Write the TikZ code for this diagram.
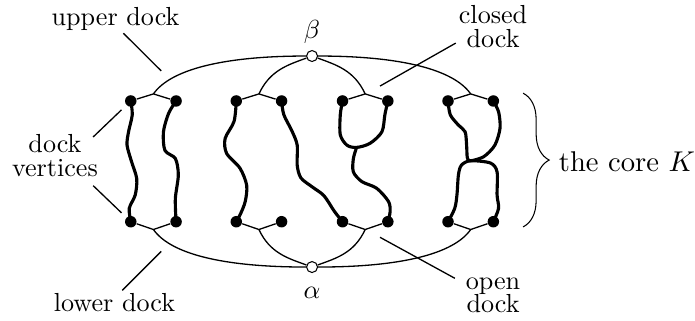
\documentclass[tikz,border=0pt]{standalone}
\usepackage{tikz}
\usetikzlibrary{decorations.pathreplacing}

\begin{document}
\begin{tikzpicture}[
  vert/.style={circle, fill=black, inner sep=0pt, minimum size=4.4pt},
  port/.style={circle, draw=black, fill=white, inner sep=0pt, minimum size=4.2pt},
  dockline/.style={line width=0.5pt},
  pointer/.style={line width=0.5pt},
  corepath/.style={line width=1.2pt, line cap=round},
  lbl/.style={inner sep=1pt, align=center, font=\linespread{0.75}\selectfont}
]
\useasboundingbox (-4.20,-2.133) rectangle (5.154,2.174);
\node[port, label={[inner sep=0pt, label distance=2.3pt]above:$\beta$}] (beta) at (0,1.42) {};
\node[port, label={[inner sep=0pt, label distance=5.4pt]below:$\alpha$}] (alpha) at (0,-1.42) {};
\foreach \i/\x in {1/-2.44,2/-1.83,3/-1.02,4/-0.41,5/0.41,6/1.02,7/1.83,8/2.44} {
  \node[vert] (t\i) at (\x,0.815) {};
  \node[vert] (b\i) at (\x,-0.81) {};
}
\foreach \j/\x in {1/-2.135,2/-0.715,3/0.715,4/2.135} {
  \coordinate (u\j) at (\x,0.91);
  \coordinate (l\j) at (\x,-0.915);
}
\foreach \j/\a/\b in {1/1/2,2/3/4,3/5/6,4/7/8} {
  \draw[dockline] (t\a) -- (u\j) -- (t\b);
  \draw[dockline] (b\a) -- (l\j) -- (b\b);
}
\draw[dockline] (u1) .. controls +(55:0.4) and +(180:1.2) .. (beta);
\draw[dockline] (u2) .. controls +(65:0.35) and +(200:0.35) .. (beta);
\draw[dockline] (u3) .. controls +(115:0.35) and +(-20:0.35) .. (beta);
\draw[dockline] (u4) .. controls +(125:0.4) and +(0:1.2) .. (beta);
\draw[dockline] (l1) .. controls +(-55:0.4) and +(180:1.2) .. (alpha);
\draw[dockline] (l2) .. controls +(-65:0.35) and +(160:0.35) .. (alpha);
\draw[dockline] (l3) .. controls +(-115:0.35) and +(20:0.35) .. (alpha);
\draw[dockline] (l4) .. controls +(-125:0.4) and +(0:1.2) .. (alpha);
\coordinate (k3) at (0.60,0.19);
\coordinate (k4) at (2.13,0.01);
\draw[corepath] plot[smooth] coordinates {(t1.center) (-2.42,0.63) (-2.47,0.40) (-2.49,0.22) (-2.43,0.00) (-2.36,-0.23) (-2.38,-0.45) (-2.46,-0.63) (b1.center)};
\draw[corepath] plot[smooth] coordinates {(t2.center) (-1.93,0.65) (-2.00,0.40) (-1.98,0.15) (-1.84,0.04) (-1.80,-0.18) (-1.84,-0.50) (b2.center)};
\draw[corepath] plot[smooth] coordinates {(t3.center) (-1.05,0.54) (-1.17,0.31) (-1.15,0.11) (-0.97,-0.09) (-0.88,-0.32) (-0.90,-0.54) (-0.97,-0.72) (b3.center)};
\draw[corepath] plot[smooth] coordinates {(t4.center) (-0.38,0.63) (-0.27,0.41) (-0.20,0.22) (-0.20,-0.05) (-0.15,-0.22) (0.00,-0.34) (0.16,-0.46) (0.30,-0.67) (b5.center)};
\draw[corepath] plot[smooth] coordinates {(t5.center) (0.38,0.63) (0.38,0.36) (0.47,0.22) (k3) (0.78,0.245) (0.94,0.40) (0.98,0.63) (t6.center)};
\draw[corepath] plot[smooth] coordinates {(k3) (0.556,0.04) (0.556,-0.14) (0.67,-0.27) (0.87,-0.36) (1.03,-0.54) (1.05,-0.68) (b6.center)};
\draw[corepath] plot[smooth] coordinates {(t7.center) (1.86,0.63) (1.97,0.49) (2.06,0.40) (2.08,0.22) (2.09,0.05) (k4) (2.31,0.065) (2.46,0.22) (2.53,0.45) (2.51,0.67) (t8.center)};
\draw[corepath] plot[smooth] coordinates {(b7.center) (1.92,-0.63) (1.95,-0.45) (1.97,-0.18) (2.01,-0.05) (k4) (2.40,-0.02) (2.49,-0.14) (2.49,-0.45) (2.51,-0.63) (b8.center)};
\node[lbl] (upper) at (-2.645,1.925) {upper dock};
\node[lbl] (lower) at (-2.66,-1.90) {lower dock};
\node[lbl] (dockv) at (-3.46,0.077) {dock\\vertices};
\node[lbl] (closed) at (2.436,1.813) {closed\\dock};
\node[lbl] (open) at (2.436,-1.80) {open\\dock};
\coordinate (uppt) at (-2.03,1.22);
\coordinate (lowpt) at (-2.03,-1.21);
\coordinate (clpt) at (0.915,1.016);
\coordinate (oppt) at (0.915,-1.02);
\draw[pointer] ([xshift=3pt]upper.south) -- (uppt);
\draw[pointer] ([xshift=3pt]lower.north) -- (lowpt);
\draw[pointer, shorten >=2.5pt] ([shift={(-3pt,-2pt)}]dockv.north east) -- (t1);
\draw[pointer, shorten >=2.5pt] ([shift={(-3pt,-2.2pt)}]dockv.south east) -- (b1);
\draw[pointer] ([yshift=3pt]closed.south west) -- (clpt);
\draw[pointer] ([shift={(-3pt,-1.5pt)}]open.north west) -- (oppt);
\coordinate (ktop) at (2.84,0.92);
\coordinate (kbot) at (2.84,-0.88);
\draw[decorate, decoration={brace, amplitude=10pt}] (ktop) -- (kbot);
\node[anchor=west, inner sep=1pt, font=\fontsize{10.95}{13}\selectfont] (core) at (3.28,0.0) {the core $K$};
\end{tikzpicture}
\end{document}
